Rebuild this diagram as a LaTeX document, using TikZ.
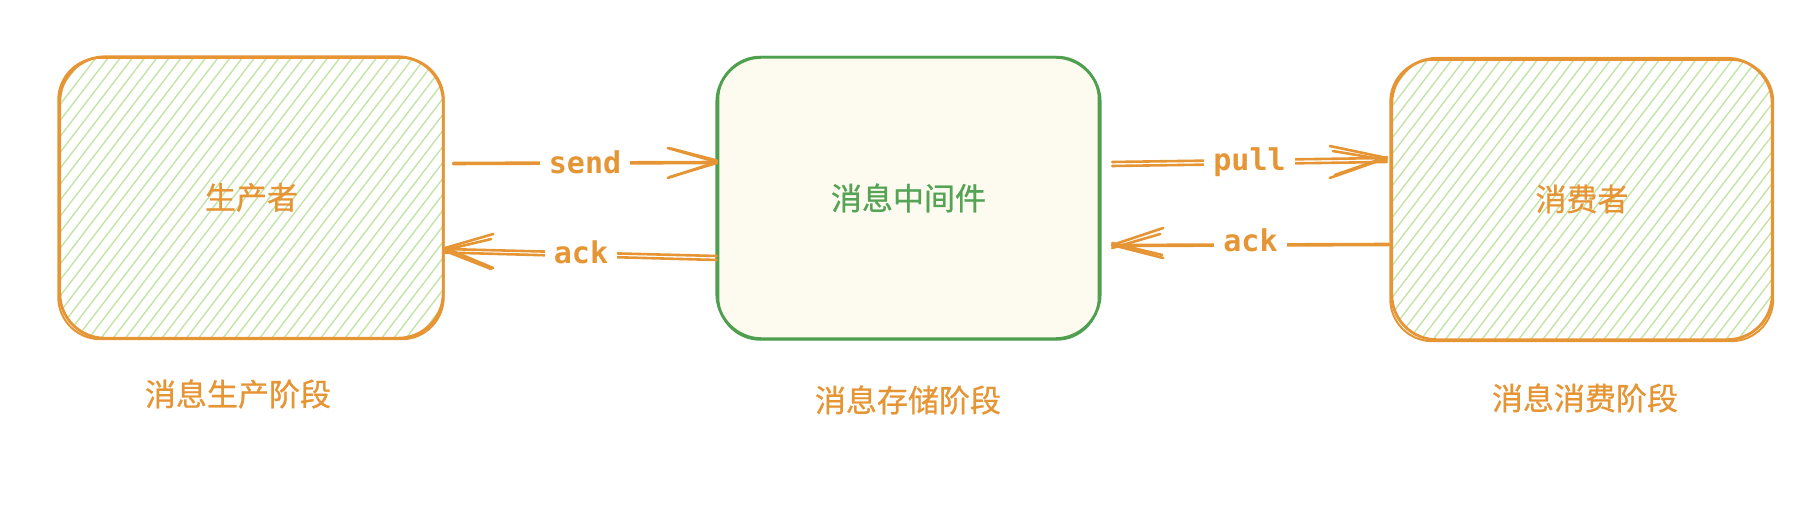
\documentclass[tikz,border=0pt]{standalone}
\usepackage{fontspec}
\newfontfamily\cjk{Noto Sans CJK SC}[FakeBold=0.8]
\newfontfamily\codefont{DejaVu Sans Mono}
\usetikzlibrary{calc}
\pgfdeclarelayer{background}
\pgfsetlayers{background,main}
\definecolor{org}{HTML}{E69535}
\definecolor{grn}{HTML}{4E9F4E}
\definecolor{grntxt}{HTML}{55A355}
\definecolor{hatchc}{HTML}{C4E3A6}
\definecolor{cream}{HTML}{FDFBEF}
\tikzset{
  boxnode/.style={minimum width=#1, minimum height=281pt, inner sep=0pt, draw=none},
  boxtext/.style={font=\cjk\fontsize{31pt}{36pt}\selectfont},
  stagetext/.style={font=\cjk\fontsize{31pt}{36pt}\selectfont, text=org},
  obox/.style={draw=org, line width=2.8pt, rounded corners=45pt},
  gbox/.style={draw=grn, line width=2.8pt, rounded corners=45pt},
  hatchline/.style={draw=hatchc, line width=1.4pt},
  arr/.style={draw=org, line width=2.6pt, line cap=round},
  lbl/.style={font=\codefont\bfseries\fontsize{30pt}{36pt}\selectfont, text=org, fill=white,
              inner xsep=9pt, inner ysep=2pt, text height=22pt, text depth=0pt}
}
\begin{document}
\begin{tikzpicture}[x=1pt,y=-1pt]
\useasboundingbox (0,0) rectangle (1816,510);

% boxes
\node[boxnode=383pt, boxtext, text=org] (prod) at (251.5,197.5) {生产者};
\node[boxnode=383pt, boxtext, text=grntxt] (mq) at (908.5,198) {消息中间件};
\node[boxnode=380pt, boxtext, text=org] (cons) at (1582,199) {消费者};

% stage labels
\node[stagetext] (s1) at (238,394) {消息生产阶段};
\node[stagetext] (s2) at (908,400) {消息存储阶段};
\node[stagetext] (s3) at (1585,398) {消息消费阶段};

\begin{pgfonlayer}{background}
  % producer hatch
  \begin{scope}
    \clip[rounded corners=45pt] (prod.north west) rectangle (prod.south east);
    \foreach \i in {0,...,52}
      \draw[hatchline] ($(prod.south west)+(\i*12.2-215,0)$) -- ++(215,-281);
  \end{scope}
  % consumer hatch
  \begin{scope}
    \clip[rounded corners=45pt] (cons.north west) rectangle (cons.south east);
    \foreach \i in {0,...,52}
      \draw[hatchline] ($(cons.south west)+(\i*12.2-215,0)$) -- ++(215,-281);
  \end{scope}
  % middle fill
  \fill[cream, rounded corners=45pt] (mq.north west) rectangle (mq.south east);
\end{pgfonlayer}

% sketchy outlines
\draw[obox] (prod.north west) rectangle (prod.south east);
\draw[obox, line width=2pt, rounded corners=42pt] ([shift={(-1.5,1)}]prod.north west) rectangle ([shift={(0.5,1)}]prod.south east);
\draw[gbox] (mq.north west) rectangle (mq.south east);
\draw[gbox, line width=2pt, rounded corners=42pt] ([shift={(1.5,-0.5)}]mq.north west) rectangle ([shift={(-1.5,1)}]mq.south east);
\draw[obox] (cons.north west) rectangle (cons.south east);
\draw[obox, line width=2pt, rounded corners=42pt] ([shift={(-1.5,1.5)}]cons.north west) rectangle ([shift={(1,1.5)}]cons.south east);

% arrow end coordinates
\coordinate (sendA) at ($(prod.east)+(10,-34.5)$);
\coordinate (sendB) at ($(mq.west)+(0,-36)$);
\coordinate (ackA) at ($(mq.west)+(0,58)$);
\coordinate (ackB) at ($(prod.east)+(2,51.5)$);
\coordinate (pullA) at ($(mq.east)+(12,-36)$);
\coordinate (pullB) at ($(cons.west)+(-5,-41)$);
\coordinate (ack2A) at ($(cons.west)+(-3,45)$);
\coordinate (ack2B) at ($(mq.east)+(12,47)$);

% send
\draw[arr] ([yshift=-1pt]sendA) -- ([yshift=-1pt]sendB);
\draw[arr] (sendA) -- node[lbl, pos=0.5] {send} (sendB);
\draw[arr] (sendB) -- ++(-49,-14) (sendB) -- ++(-49,16);
\draw[arr] ([yshift=1.5pt]sendB) -- ++(-46,-12) ([yshift=-1pt]sendB) -- ++(-47,14);
% ack (left)
\draw[arr] ([yshift=-4pt]ackA) -- ([yshift=-3.5pt]ackB);
\draw[arr] (ackA) -- node[lbl, pos=0.5] {ack} (ackB);
\draw[arr] ([yshift=1pt]ackB) -- ++(48,-14) ([yshift=1pt]ackB) -- ++(48,20);
\draw[arr] ([yshift=-1pt]ackB) -- ++(46,-11) ([yshift=-2pt]ackB) -- ++(46,18);
% pull
\draw[arr] ([yshift=-4pt]pullA) -- ([yshift=-4pt]pullB);
\draw[arr] (pullA) -- node[lbl, pos=0.5] {pull} (pullB);
\draw[arr] (pullB) -- ++(-57,-12) (pullB) -- ++(-57,20);
\draw[arr] ([yshift=-2pt]pullB) -- ++(-54,-9) ([yshift=1pt]pullB) -- ++(-52,18);
% ack (right)
\draw[arr] ([yshift=-1pt]ack2A) -- ([yshift=-1pt]ack2B);
\draw[arr] (ack2A) -- node[lbl, pos=0.5, yshift=4pt] {ack} (ack2B);
\draw[arr] (ack2B) -- ++(51,-17) (ack2B) -- ++(51,13);
\draw[arr] ([yshift=-3pt]ack2B) -- ++(48,-14) ([yshift=2pt]ack2B) -- ++(50,12);
\end{tikzpicture}
\end{document}
